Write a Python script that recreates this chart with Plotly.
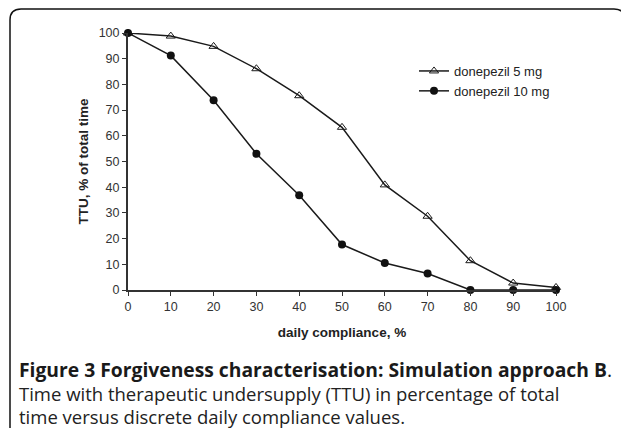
import plotly.graph_objects as go

compliance = [0, 10, 20, 30, 40, 50, 60, 70, 80, 90, 100]
ttu_5mg = [100, 98.8, 94.8, 86.1, 75.6, 63.3, 40.9, 28.7, 11.4, 2.7, 1.0]
ttu_10mg = [100, 91.2, 73.8, 53.0, 36.9, 17.7, 10.5, 6.4, 0, 0, 0]
x_ticks = [0, 10, 20, 30, 40, 50, 60, 70, 80, 90, 100]
y_ticks = [0, 10, 20, 30, 40, 50, 60, 70, 80, 90, 100]

OFF = 8  # default page body margin
W, H = 629 - OFF, 436 - 2 * OFF
L = 128 - OFF
T = 33 - OFF
R = W - (556 - OFF)
B = H - (290 - OFF)
PW, PH = W - L - R, H - T - B


def px(X):
    return (X - OFF - L) / PW


def py(Y):
    return (H - B - (Y - OFF)) / PH


fig = go.Figure()
fig.add_trace(go.Scatter(
    x=compliance, y=ttu_5mg, name="donepezil 5 mg", mode="lines+markers",
    line=dict(color="#1a1a1a", width=1.5),
    marker=dict(symbol="triangle-up-open", size=8, color="#1a1a1a", line=dict(width=1)),
    cliponaxis=False,
))
fig.add_trace(go.Scatter(
    x=compliance, y=ttu_10mg, name="donepezil 10 mg", mode="lines+markers",
    line=dict(color="#1a1a1a", width=1.5),
    marker=dict(symbol="circle", size=8, color="#111111"),
    cliponaxis=False,
))

tick_font = dict(family="Liberation Sans, Arial", size=12.5, color="#333333")
title_font = dict(family="Liberation Sans, Arial", size=13.5, color="#222222")
fig.update_xaxes(
    range=[0, 100], tickvals=x_ticks, ticks="outside", ticklen=4, tickwidth=1,
    tickcolor="#333333", showline=True, linecolor="#333333", linewidth=2,
    showgrid=False, zeroline=False, tickfont=tick_font,
    title=dict(text="<b>daily compliance, %</b>", font=title_font, standoff=15),
)
fig.update_yaxes(
    range=[0, 100], tickvals=y_ticks, ticks="outside", ticklen=4, tickwidth=1,
    tickcolor="#333333", showline=True, linecolor="#333333", linewidth=2,
    showgrid=False, zeroline=False, tickfont=tick_font,
    title=dict(text="<b>TTU, % of total time</b>", font=title_font, standoff=7),
)

# rounded border (page pixel coordinates)
x0, y0, x1, y1, r = 10, 9, 625, 450, 11
path = (f"M {px(x0)},{py(y1)} L {px(x0)},{py(y0 + r)} "
        f"Q {px(x0)},{py(y0)} {px(x0 + r)},{py(y0)} "
        f"L {px(x1 - r)},{py(y0)} Q {px(x1)},{py(y0)} {px(x1)},{py(y0 + r)} "
        f"L {px(x1)},{py(y1)}")
fig.add_shape(type="path", path=path, xref="paper", yref="paper",
              line=dict(color="#111111", width=1.5), layer="below")

cap_bold = dict(family="Open Sans", size=19.3, color="#1a1a1a")
cap_font = dict(family="Open Sans", size=18.5, color="#222222")
fig.add_annotation(
    text="<b>Figure 3 Forgiveness characterisation: Simulation approach B</b>.",
    x=px(17), y=py(369), xref="paper", yref="paper", xanchor="left",
    yanchor="middle", showarrow=False, font=cap_bold, align="left")
fig.add_annotation(
    text="Time with therapeutic undersupply (TTU) in percentage of total",
    x=px(17), y=py(393), xref="paper", yref="paper", xanchor="left",
    yanchor="middle", showarrow=False, font=cap_font, align="left")
fig.add_annotation(
    text="time versus discrete daily compliance values.",
    x=px(17), y=py(416), xref="paper", yref="paper", xanchor="left",
    yanchor="middle", showarrow=False, font=cap_font, align="left")

fig.update_layout(
    width=W, height=H, margin=dict(l=L, r=R, t=T, b=B, autoexpand=False),
    paper_bgcolor="white", plot_bgcolor="white",
    showlegend=True,
    legend=dict(x=px(414), y=py(56), xanchor="left", yanchor="top",
                bgcolor="rgba(0,0,0,0)",
                font=dict(family="Liberation Sans, Arial", size=13, color="#222222"),
                itemwidth=30, tracegroupgap=0),
)

fig.write_html("out.html")
